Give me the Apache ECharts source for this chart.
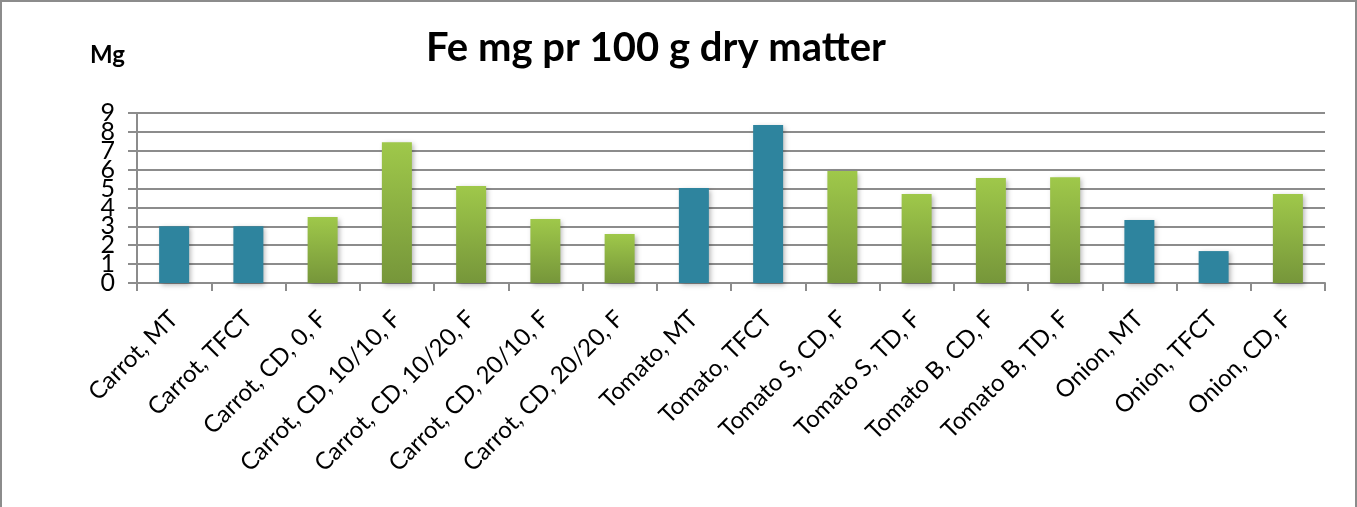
<!DOCTYPE html>
<html>
<head>
<meta charset="utf-8">
<script src="https://cdn.jsdelivr.net/npm/echarts@6/dist/echarts.min.js"></script>
<style>
html, body { margin: 0; padding: 0; background: #fff; }
#main { width: 1357px; height: 507px; box-sizing: border-box; border: 2px solid #8c8c8c; border-bottom: none; }
</style>
</head>
<body>
<div id="main"></div>
<script>
var dom = document.getElementById("main");
var myChart = echarts.init(dom);

var categories = ['Carrot, MT', 'Carrot, TFCT', 'Carrot, CD, 0, F', 'Carrot, CD, 10/10, F',
    'Carrot, CD, 10/20, F', 'Carrot, CD, 20/10, F', 'Carrot, CD, 20/20, F', 'Tomato, MT',
    'Tomato, TFCT', 'Tomato S, CD, F', 'Tomato S, TD, F', 'Tomato B, CD, F', 'Tomato B, TD, F',
    'Onion, MT', 'Onion, TFCT', 'Onion, CD, F'];
var values = [3.0, 3.0, 3.5, 7.45, 5.13, 3.39, 2.6, 5.03, 8.36, 5.93, 4.71, 5.56, 5.6, 3.33, 1.69, 4.71];
// table values (MT / TFCT) are teal, measured ones green
var isTable = [1, 1, 0, 0, 0, 0, 0, 1, 1, 0, 0, 0, 0, 1, 1, 0];
var yTicks = [0, 1, 2, 3, 4, 5, 6, 7, 8, 9];
var yMin = yTicks[0], yMax = yTicks[yTicks.length - 1];

var teal = '#2e849e';
var green = new echarts.graphic.LinearGradient(0, 0, 0, 1, [
    { offset: 0, color: '#9fc84a' },
    { offset: 1, color: '#76963a' }
]);
var axisGrey = '#8c8c8c';

var option = {
    animation: false,
    textStyle: { fontFamily: 'Lato' },
    title: [
        {
            text: 'Fe mg pr 100 g dry matter',
            left: 419,
            top: 21,
            textStyle: { fontSize: 40, fontWeight: 'bold', color: '#000', fontFamily: 'Lato' }
        },
        {
            text: 'Mg',
            left: 83,
            top: 36,
            textStyle: { fontSize: 24, fontWeight: 'bold', color: '#000', fontFamily: 'Lato' }
        }
    ],
    grid: { left: 135, right: 30, top: 111, bottom: 224 },
    xAxis: {
        type: 'category',
        data: categories,
        axisLine: { lineStyle: { color: axisGrey, width: 2 } },
        axisTick: { show: true, length: 8, lineStyle: { color: axisGrey, width: 2 } },
        axisLabel: { rotate: 45, fontSize: 24, color: '#000', margin: 32, interval: 0 }
    },
    yAxis: [
        {
            // main axis: line, ticks, grid, and the end labels (0 and 9)
            type: 'value',
            position: 'left',
            min: yMin,
            max: yMax,
            interval: 1,
            axisLine: { show: true, lineStyle: { color: axisGrey, width: 2 } },
            axisTick: { show: true, length: 9, lineStyle: { color: axisGrey, width: 2 } },
            axisLabel: {
                fontSize: 25, color: '#000', margin: 22,
                showMinLabel: true, showMaxLabel: true,
                formatter: function (v) { return (v === yMin || v === yMax) ? String(v) : ''; }
            },
            splitLine: { lineStyle: { color: axisGrey, width: 2 } }
        },
        {
            // labels-only axis for the inner ticks (1..8), which the end labels would hide
            type: 'value',
            position: 'left',
            offset: 0,
            min: yMin,
            max: yMax,
            interval: 1,
            axisLine: { show: false },
            axisTick: { show: false },
            splitLine: { show: false },
            axisLabel: {
                fontSize: 25, color: '#000', margin: 22,
                showMinLabel: false, showMaxLabel: false
            }
        }
    ],
    series: [
        {
            name: 'Fe',
            type: 'bar',
            barWidth: 30,
            data: values.map(function (v, i) {
                return {
                    value: v,
                    itemStyle: {
                        color: isTable[i] ? teal : green,
                        shadowBlur: 5,
                        shadowOffsetX: 2,
                        shadowOffsetY: 2,
                        shadowColor: 'rgba(0,0,0,0.3)'
                    }
                };
            })
        }
    ]
};

myChart.setOption(option, true);
</script>
</body>
</html>
